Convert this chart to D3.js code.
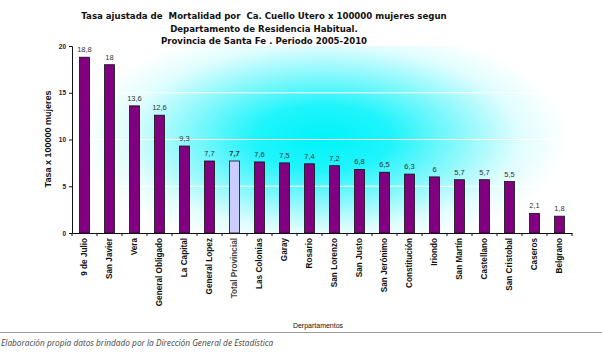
<!DOCTYPE html>
<html><head><meta charset="utf-8">
<script src="https://cdn.jsdelivr.net/npm/d3@7"></script>
<style>body{margin:0;background:#fff}svg{display:block}text{white-space:pre}</style>
</head><body>
<svg id="c" width="602" height="358"></svg>
<script>
const categories = ["9 de Julio","San Javier","Vera","General Obligado","La Capital","General Lopez","Total Provincial","Las Colonias","Garay","Rosario","San Lorenzo","San Justo","San Jerónimo","Constitución","Iriondo","San Martín","Castellano","San Cristobal","Caseros","Belgrano"];
const values = [18.8,18,13.6,12.6,9.3,7.7,7.7,7.6,7.5,7.4,7.2,6.8,6.5,6.3,6,5.7,5.7,5.5,2.1,1.8];
const yTicks = [0,5,10,15,20];
const highlight = "Total Provincial";
const titleLines = ["Tasa ajustada de  Mortalidad por  Ca. Cuello Utero x 100000 mujeres segun","Departamento de Residencia Habitual.","Provincia de Santa Fe . Periodo 2005-2010"];

const svg = d3.select("#c");
const L=72,R=572,T=46,B=233;
const x = d3.scaleBand().domain(categories).range([L,R]).paddingInner(0.6).paddingOuter(0.3);
const y = d3.scaleLinear().domain([0,20]).range([B,T]);

const defs = svg.append("defs");
const g = defs.append("radialGradient").attr("id","bg").attr("gradientUnits","userSpaceOnUse")
  .attr("cx",323).attr("cy",138).attr("r",245)
  .attr("gradientTransform","translate(323,138) scale(1,0.47) translate(-323,-138)");
[[0,"#00f3fa"],[0.28,"#1ff4fb"],[0.55,"#86f8fc"],[0.8,"#e0fdfe"],[1,"#ffffff"]].forEach(([o,c])=>g.append("stop").attr("offset",o).attr("stop-color",c));
svg.append("rect").attr("x",L).attr("y",T).attr("width",R-L).attr("height",B-T).attr("fill","url(#bg)");

// gridlines
svg.append("g").selectAll("line").data(yTicks.filter(d=>d>0&&d<20)).join("line")
  .attr("x1",L).attr("x2",R).attr("y1",d=>y(d)).attr("y2",d=>y(d))
  .attr("stroke","#fff").attr("stroke-width",1.2);

// title
svg.append("g").selectAll("text").data(titleLines).join("text")
  .attr("x",264).attr("y",(d,i)=>19+i*12.5).attr("text-anchor","middle")
  .attr("font-family","'DejaVu Sans', sans-serif").attr("font-weight","bold").attr("font-size",8.6)
  .attr("fill","#111").text(d=>d);

// bars
svg.append("g").selectAll("rect").data(values).join("rect")
  .attr("x",(d,i)=>x(categories[i])).attr("width",x.bandwidth())
  .attr("y",d=>y(d)).attr("height",d=>B-y(d))
  .attr("fill",(d,i)=>categories[i]===highlight?"#ccccff":"#800080")
  .attr("stroke","#111").attr("stroke-width",0.8);

// value labels
svg.append("g").selectAll("text").data(values).join("text")
  .attr("x",(d,i)=>x(categories[i])+x.bandwidth()/2).attr("y",d=>y(d)-5)
  .attr("text-anchor","middle").attr("font-family","'Liberation Sans', Arial, sans-serif")
  .attr("font-size",7.5).attr("fill","#333")
  .attr("font-weight",(d,i)=>categories[i]===highlight?"bold":"normal")
  .text(d=>String(d).replace(".",","));

// y axis
const ya = svg.append("g").attr("transform",`translate(${L},0)`)
  .call(d3.axisLeft(y).tickValues(yTicks).tickSize(3).tickFormat(d3.format("d")));
ya.select(".domain").attr("stroke","#111");
ya.selectAll("line").attr("stroke","#111");
ya.selectAll("text").attr("font-family","'Liberation Sans', Arial, sans-serif").attr("font-size",6.5).attr("font-weight","bold").attr("fill","#222");

// x axis
const xa = svg.append("g").attr("transform",`translate(0,${B})`)
  .call(d3.axisBottom(x).tickSize(0).tickSizeOuter(0));
xa.select(".domain").attr("stroke","#111");
xa.selectAll("text").attr("transform",d=>"translate(0,5) rotate(-90)").attr("text-anchor","end")
  .attr("dy","0.35em").attr("x",0).attr("y",0)
  .attr("font-family","'Liberation Sans', Arial, sans-serif").attr("font-size",8.2)
  .attr("font-weight","bold").attr("fill",d=>d===highlight?"#444":"#111");
// separator ticks between bands
svg.append("g").selectAll("line").data(d3.range(categories.length+1)).join("line")
  .attr("x1",i=>L+i*(R-L)/categories.length).attr("x2",i=>L+i*(R-L)/categories.length)
  .attr("y1",B).attr("y2",B+3).attr("stroke","#111");

// axis titles
svg.append("text").attr("transform",`translate(51,139) rotate(-90)`).attr("text-anchor","middle")
  .attr("font-family","'Liberation Sans', Arial, sans-serif").attr("font-size",9).attr("font-weight","bold")
  .attr("fill","#111").text("Tasa x 100000 mujeres");
svg.append("text").attr("x",318).attr("y",328).attr("text-anchor","middle")
  .attr("font-family","'Liberation Sans', Arial, sans-serif").attr("font-size",7).attr("fill","#111")
  .text("Derpartamentos");

// footer
svg.append("line").attr("x1",0).attr("x2",602).attr("y1",332.5).attr("y2",332.5).attr("stroke","#999").attr("stroke-width",1);
svg.append("text").attr("x",1).attr("y",346).attr("font-family","'Open Sans', sans-serif").attr("font-style","italic")
  .attr("font-size",8.3).attr("fill","#444").text("Elaboración propia datos brindado por la Dirección General de Estadística");
</script>
</body></html>
